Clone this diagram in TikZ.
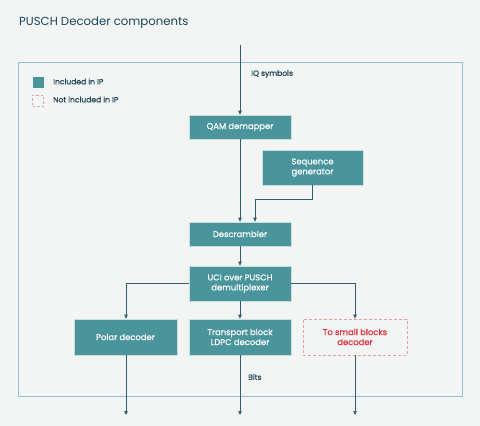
\documentclass[tikz,border=0pt]{standalone}
\usepackage{fontspec}
\setmainfont{Poppins}
\newfontfamily\medfont[FakeBold=0.5]{Poppins}
\usetikzlibrary{arrows.meta}
\definecolor{bg}{HTML}{F3F5F5}
\definecolor{boxfill}{HTML}{4A959C}
\definecolor{frame}{HTML}{8EC3CB}
\definecolor{arr}{HTML}{2E5F70}
\definecolor{txt}{HTML}{1D4455}
\definecolor{redtxt}{HTML}{D9303A}
\definecolor{reddash}{HTML}{E8A0A0}
\tikzset{
  blk/.style={fill=boxfill, draw=white!70!boxfill, line width=0.6pt, text=white, font=\medfont\fontsize{8.4}{10}\selectfont, align=center, inner sep=0pt, minimum width=102pt, minimum height=24pt},
  blkdash/.style={draw=reddash, dashed, dash pattern=on 3pt off 2pt, line width=0.8pt, text=redtxt, font=\medfont\fontsize{8.4}{10}\selectfont, align=center, inner sep=0pt, minimum width=104pt, minimum height=36pt},
  conn/.style={draw=arr, line width=0.7pt, -{Triangle[length=4pt,width=3.5pt]}},
  lbl/.style={text=txt, font=\medfont\fontsize{7.6}{9}\selectfont, inner sep=0pt, anchor=west},
}
\begin{document}
\begin{tikzpicture}[x=1pt,y=-1pt]
\fill[bg] (0,0) rectangle (480,426);
\useasboundingbox (0,0) rectangle (480,426);
\node[text=txt, font=\fontsize{11.7}{14}\selectfont, anchor=west, inner sep=0pt] (title) at (19,23) {PUSCH Decoder components};
\draw[frame, line width=0.8pt] (18.5,62.5) rectangle (462,396);
% legend
\node[fill=boxfill, minimum width=11pt, minimum height=11pt, inner sep=0pt] (leg1) at (38,82.5) {};
\node[draw=reddash, dashed, dash pattern=on 2.5pt off 2pt, line width=0.7pt, minimum width=11pt, minimum height=11pt, inner sep=0pt] (leg2) at (38,100.5) {};
\node[lbl] (leg1t) at (53,81.5) {Included in IP};
\node[lbl] (leg2t) at (53,99.5) {Not included in IP};
% nodes
\coordinate (in) at (240,45);
\node[blk] (qam) at (240,127) {QAM demapper};
\node[blk, minimum width=101pt, minimum height=35pt] (seq) at (312.5,167.5) {Sequence\\generator};
\node[blk] (desc) at (240,234) {Descrambler};
\node[blk, minimum height=35pt] (uci) at (240,283.5) {UCI over PUSCH\\demultiplexer};
\node[blk, minimum width=103pt, minimum height=36pt] (polar) at (125.5,337) {Polar decoder};
\node[blk, minimum height=36pt] (tb) at (240,337) {Transport block\\LDPC decoder};
\node[blkdash] (small) at (355,337) {To small blocks\\decoder};
\coordinate (o1) at (126,415);
\coordinate (o2) at (240,415);
\coordinate (o3) at (355,415);
\node[lbl] (iq) at (251,74) {IQ symbols};
\node[lbl] (bits) at (248,377) {Bits};
% connectors
\draw[conn] (in) -- (qam.north);
\draw[conn] (qam.south) -- (desc.north);
\draw[conn] (seq.south) -- ++(0,14) -| ([xshift=15pt]desc.north);
\draw[conn] (desc.south) -- (uci.north);
\draw[conn] (uci.west) -| (polar.north -| o1);
\draw[conn] (uci.east) -| (small.north);
\draw[conn] (uci.south) -- (tb.north);
\draw[conn] (polar.south -| o1) -- (o1);
\draw[conn] (tb.south) -- (o2);
\draw[conn] (small.south) -- (o3);
\end{tikzpicture}
\end{document}
